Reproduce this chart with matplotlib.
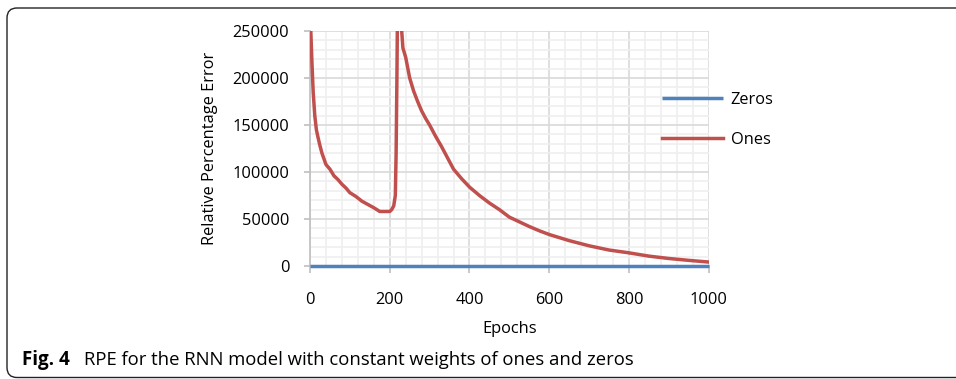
"""Fig. 4: RPE for the RNN model with constant weights of ones and zeros."""

import matplotlib

matplotlib.use("Agg")
import matplotlib.pyplot as plt
from matplotlib.patches import FancyBboxPatch
from matplotlib.ticker import MultipleLocator

# values
epochs_ones = [0, 2, 5, 8, 12, 16, 20, 25, 30, 40, 50, 60, 70, 80, 90, 100, 115, 130,
               145, 160, 175, 190, 200, 205, 210, 214, 216, 218, 220, 228, 230, 233,
               240, 250, 260, 270, 280, 290, 300, 315, 330, 345, 360, 380, 400, 425,
               450, 475, 500, 525, 550, 575, 600, 650, 700, 750, 800, 850, 900, 950, 1000]
rpe_ones = [330000, 250000, 215000, 185000, 160000, 145000, 137000, 128000, 120000,
            108000, 103000, 96000, 92000, 87000, 83000, 78000, 74000, 69000, 65500,
            62000, 58000, 58000, 58000, 60000, 64000, 75000, 120000, 200000, 300000,
            300000, 250000, 232000, 222000, 200000, 186000, 175000, 165000, 157000,
            150000, 138000, 127000, 115000, 103000, 93000, 84000, 75000, 67000, 60000,
            52000, 47000, 42000, 37500, 33500, 27000, 21500, 17000, 14000, 10500, 8000,
            6000, 4200]
epochs_zeros = [0, 1000]
rpe_zeros = [0, 0]

x_ticks = [0, 200, 400, 600, 800, 1000]
y_ticks = [0, 50000, 100000, 150000, 200000, 250000]

BLUE = "#4F81BD"
RED = "#C0504D"
FONT = "Open Sans"

plt.rcParams["font.family"] = [FONT, "DejaVu Sans"]

fig = plt.figure(figsize=(9.56, 3.79), dpi=100)
ax = fig.add_axes([310 / 956, 1 - 266 / 379, 398.7 / 956, 235 / 379])

ax.plot(epochs_zeros, rpe_zeros, color=BLUE, lw=2.5, solid_capstyle="butt",
        label="Zeros", zorder=3, clip_on=False)
ax.plot(epochs_ones, rpe_ones, color=RED, lw=2.5, solid_joinstyle="round",
        label="Ones", zorder=4)

ax.set_xlim(0, 1000)
ax.set_ylim(0, 250000)
ax.set_xticks(x_ticks)
ax.set_yticks(y_ticks)
ax.xaxis.set_minor_locator(MultipleLocator(40))
ax.yaxis.set_minor_locator(MultipleLocator(10000))
ax.grid(which="minor", color="#EFEFEF", lw=1.2)
ax.grid(which="major", color="#D9D9D9", lw=1.2)
ax.set_axisbelow(True)
ax.tick_params(axis="x", which="minor", length=0)
ax.tick_params(axis="y", which="minor", length=0)
ax.tick_params(axis="x", which="major", length=5, width=1.2, color="#BFBFBF",
               pad=14, labelsize=11.8)
ax.tick_params(axis="y", which="major", length=4, width=1.2, color="#BFBFBF",
               pad=11, labelsize=11.8)
for side in ("top", "right"):
    ax.spines[side].set_visible(False)
for side in ("left", "bottom"):
    ax.spines[side].set_color("#BFBFBF")
    ax.spines[side].set_linewidth(1.2)

ax.set_xlabel("Epochs", fontsize=11.8, labelpad=9)
ax.set_ylabel("Relative Percentage Error", fontsize=11.8, labelpad=10)

fig.legend(loc="upper left", bbox_to_anchor=(662 / 956, 1 - 92 / 379), frameon=False,
           fontsize=11.8, handlelength=3.7, handletextpad=0.5, labelspacing=1.45,
           borderpad=0, borderaxespad=0)

border = FancyBboxPatch((0.07, 0.015), 10.0, 3.695,
                        boxstyle="round,pad=0,rounding_size=0.1",
                        transform=fig.dpi_scale_trans, fill=False,
                        edgecolor="#222222", lw=1.0, clip_on=False)
fig.patches.append(border)

fig.text(22 / 956, 1 - 360 / 379, "Fig. 4", fontsize=13.5, fontweight="bold",
         va="center", ha="left")
fig.text(84 / 956, 1 - 360 / 379,
         "RPE for the RNN model with constant weights of ones and zeros",
         fontsize=13.3, va="center", ha="left")

fig.savefig("out.png", dpi=100)
plt.close(fig)
